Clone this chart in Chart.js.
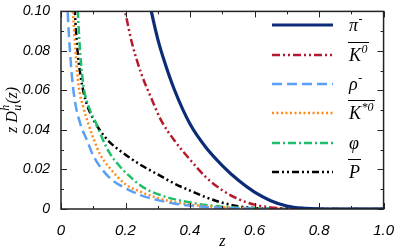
<!DOCTYPE html>
<html>
<head>
<meta charset="utf-8">
<script src="https://cdn.jsdelivr.net/npm/chart.js@4.4.1/dist/chart.umd.min.js"></script>
<style>
  html, body { margin: 0; padding: 0; background: #fff; }
  #chart { display: block; }
</style>
</head>
<body>
<canvas id="chart" width="399" height="252"></canvas>
<script>
// значения z * D_u^h(z): пары [z, значение]
const piMinus = [[0.27,0.108],[0.28,0.100],[0.30,0.086],[0.32,0.075],[0.35,0.061],[0.40,0.043],[0.45,0.031],[0.50,0.022],[0.55,0.0145],[0.60,0.0085],[0.65,0.0042],[0.70,0.0015],[0.75,0.0004],[0.80,0.0001],[0.85,0],[1.0,0]];
const kZeroBar = [[0.19,0.107],[0.20,0.099],[0.22,0.084],[0.25,0.068],[0.28,0.056],[0.31,0.045],[0.35,0.035],[0.40,0.025],[0.45,0.016],[0.50,0.0095],[0.55,0.005],[0.60,0.0022],[0.65,0.0008],[0.70,0.0002],[0.75,0],[1.0,0]];
const rhoMinus = [[0.015,0.13],[0.02,0.103],[0.03,0.075],[0.04,0.058],[0.06,0.043],[0.08,0.035],[0.10,0.027],[0.13,0.0195],[0.16,0.0145],[0.20,0.0105],[0.25,0.0068],[0.30,0.0045],[0.35,0.0028],[0.40,0.0017],[0.50,0.0006],[0.60,0.0002],[0.70,0],[1.0,0]];
const kStarBar = [[0.03,0.125],[0.037,0.100],[0.045,0.080],[0.055,0.062],[0.07,0.051],[0.085,0.043],[0.10,0.036],[0.12,0.028],[0.15,0.021],[0.20,0.0125],[0.25,0.0085],[0.30,0.0055],[0.35,0.0035],[0.40,0.0022],[0.50,0.0008],[0.60,0.0002],[0.70,0],[1.0,0]];
const phiMeson = [[0.045,0.125],[0.052,0.100],[0.06,0.078],[0.07,0.062],[0.09,0.050],[0.11,0.043],[0.13,0.035],[0.15,0.0285],[0.18,0.022],[0.21,0.017],[0.25,0.0115],[0.30,0.0075],[0.35,0.005],[0.40,0.0033],[0.45,0.002],[0.50,0.0012],[0.60,0.0004],[0.70,0.0001],[0.80,0],[1.0,0]];
const pBar = [[0.038,0.122],[0.043,0.100],[0.05,0.082],[0.06,0.068],[0.07,0.059],[0.08,0.053],[0.10,0.0455],[0.12,0.040],[0.15,0.034],[0.20,0.0275],[0.25,0.022],[0.30,0.0175],[0.35,0.013],[0.40,0.0093],[0.45,0.0059],[0.50,0.0032],[0.55,0.0014],[0.60,0.0005],[0.65,0.0001],[0.70,0],[1.0,0]];

const xTicks = [0, 0.2, 0.4, 0.6, 0.8, 1.0];
const yTicks = [0, 0.02, 0.04, 0.06, 0.08, 0.10];

// подписи легенды: основа, верхний индекс, черта сверху
const legendItems = [
  { base: 'π', sup: '-', bar: false },
  { base: 'K', sup: '0', bar: true },
  { base: 'ρ', sup: '-', bar: false },
  { base: 'K', sup: '*0', bar: true },
  { base: 'φ', sup: '', bar: false },
  { base: 'P', sup: '', bar: true }
];

const styles = [
  { color: '#0c2c78', width: 3.2, dash: [] },
  { color: '#b31b2c', width: 2.5, dash: [8, 3, 2, 3, 2, 3] },
  { color: '#5aa0f5', width: 2.5, dash: [10, 5] },
  { color: '#ff8a1a', width: 2.5, dash: [2, 2.5] },
  { color: '#1fbf6a', width: 2.5, dash: [8, 3, 2, 3] },
  { color: '#000000', width: 2.5, dash: [7, 3, 2, 3, 2, 3] }
];

const series = [piMinus, kZeroBar, rhoMinus, kStarBar, phiMeson, pBar];

function toPoints(arr) {
  return arr.map(p => ({ x: p[0], y: p[1] }));
}

// рамка и засечки внутрь, как в оригинале
const framePlugin = {
  id: 'frame',
  afterDatasetsDraw(chart) {
    const ctx = chart.ctx;
    const a = chart.chartArea;
    const xs = chart.scales.x;
    const ys = chart.scales.y;
    ctx.save();
    ctx.strokeStyle = '#222';
    ctx.lineWidth = 1.5;
    ctx.setLineDash([]);
    ctx.strokeRect(a.left, a.top, a.right - a.left, a.bottom - a.top);
    ctx.lineWidth = 1;
    for (let i = 0; i <= 10; i++) {
      const px = Math.round(xs.getPixelForValue(i / 10)) + 0.5;
      const len = i % 2 === 0 ? 6 : 3;
      ctx.beginPath();
      ctx.moveTo(px, a.bottom); ctx.lineTo(px, a.bottom - len);
      ctx.moveTo(px, a.top); ctx.lineTo(px, a.top + len);
      ctx.stroke();
    }
    for (let i = 0; i <= 10; i++) {
      const py = Math.round(ys.getPixelForValue(i / 100)) + 0.5;
      const len = i % 2 === 0 ? 6 : 3;
      ctx.beginPath();
      ctx.moveTo(a.left, py); ctx.lineTo(a.left + len, py);
      ctx.moveTo(a.right, py); ctx.lineTo(a.right - len, py);
      ctx.stroke();
    }

    // подпись оси y: z D_u^h(z)
    ctx.translate(13, 102);
    ctx.rotate(-Math.PI / 2);
    ctx.fillStyle = '#000';
    ctx.textBaseline = 'middle';
    ctx.textAlign = 'left';
    const big = 'italic 16px "Liberation Serif"';
    const small = 'italic 12px "Liberation Serif"';
    ctx.font = big;
    let x0 = -31;
    ctx.fillText('z D', x0, 0);
    x0 += ctx.measureText('z D').width + 0.5;
    ctx.font = small;
    ctx.fillText('h', x0, -7);
    ctx.fillText('u', x0, 5);
    x0 += ctx.measureText('h').width + 1;
    ctx.font = big;
    ctx.fillText('(z)', x0, 0);
    ctx.restore();

    // подпись оси x
    ctx.save();
    ctx.fillStyle = '#000';
    ctx.font = 'italic 16px "Liberation Serif"';
    ctx.textAlign = 'center';
    ctx.textBaseline = 'middle';
    ctx.fillText('z', (a.left + a.right) / 2, 242);
    ctx.restore();
  }
};

// легенда внутри поля графика
const legendPlugin = {
  id: 'customLegend',
  afterDatasetsDraw(chart) {
    const ctx = chart.ctx;
    const rowY = [25, 55, 84, 113, 143, 172];
    ctx.save();
    legendItems.forEach((item, i) => {
      const st = styles[i];
      const y = rowY[i];
      ctx.strokeStyle = st.color;
      ctx.lineWidth = st.width;
      ctx.setLineDash(st.dash);
      ctx.beginPath();
      ctx.moveTo(272, y);
      ctx.lineTo(333, y);
      ctx.stroke();

      ctx.setLineDash([]);
      ctx.fillStyle = '#000';
      ctx.textBaseline = 'alphabetic';
      ctx.textAlign = 'left';
      const tx = 349;
      ctx.font = 'italic 18px "Liberation Serif"';
      ctx.fillText(item.base, tx, y + 6);
      const wBase = ctx.measureText(item.base).width;
      let total = wBase;
      if (item.sup) {
        ctx.font = 'italic 12px "Liberation Serif"';
        ctx.fillText(item.sup, tx + wBase + 0.5, y - 2);
        total += ctx.measureText(item.sup).width + 1;
      }
      if (item.bar) {
        ctx.strokeStyle = '#000';
        ctx.lineWidth = 1;
        ctx.beginPath();
        ctx.moveTo(tx - 1, y - 12.5);
        ctx.lineTo(tx + total + 1, y - 12.5);
        ctx.stroke();
      }
    });
    ctx.restore();
  }
};

new Chart(document.getElementById('chart'), {
  type: 'line',
  data: {
    datasets: series.map((s, i) => ({
      data: toPoints(s),
      borderColor: styles[i].color,
      borderWidth: styles[i].width,
      borderDash: styles[i].dash,
      pointRadius: 0,
      fill: false,
      cubicInterpolationMode: 'monotone'
    }))
  },
  options: {
    responsive: false,
    animation: false,
    devicePixelRatio: 1,
    layout: { padding: { left: 0, top: 8, right: 12, bottom: 0 } },
    plugins: { legend: { display: false }, tooltip: { enabled: false } },
    scales: {
      x: {
        type: 'linear',
        min: 0, max: 1,
        afterBuildTicks: scale => { scale.ticks = xTicks.map(v => ({ value: v })); },
        afterFit: scale => { scale.height = 43; },
        grid: { display: false },
        border: { display: false },
        ticks: {
          padding: 5,
          color: '#000',
          font: { family: '"Liberation Sans"', size: 15, style: 'italic' },
          callback: v => (v === 0 ? '0' : v.toFixed(1))
        }
      },
      y: {
        min: 0, max: 0.1,
        afterBuildTicks: scale => { scale.ticks = yTicks.map(v => ({ value: v })); },
        afterFit: scale => { scale.width = 61; },
        grid: { display: false },
        border: { display: false },
        ticks: {
          padding: 3,
          color: '#000',
          font: { family: '"Liberation Sans"', size: 14, style: 'italic' },
          callback: v => (v === 0 ? '0' : v.toFixed(2))
        }
      }
    }
  },
  plugins: [framePlugin, legendPlugin]
});
</script>
</body>
</html>
